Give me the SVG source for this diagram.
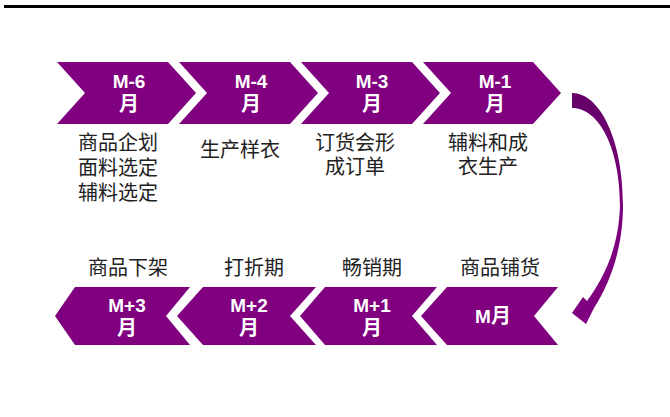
<svg xmlns="http://www.w3.org/2000/svg" width="670" height="417" viewBox="0 0 670 417">
<defs>
<style>
.chev{fill:#800080;}
.mt{font-family:"Liberation Sans","Noto Sans CJK SC",sans-serif;font-weight:bold;font-size:19px;fill:#fff;text-anchor:middle;}
.yue{font-family:"Liberation Sans","Noto Sans CJK SC",sans-serif;font-weight:bold;font-size:20px;}
.lb{font-family:"Liberation Serif","Noto Sans CJK SC",serif;font-size:20px;fill:#222;text-anchor:middle;}
</style>
<linearGradient id="ag" x1="0" y1="0" x2="0" y2="1">
<stop offset="0" stop-color="#650068"/>
<stop offset="0.5" stop-color="#7a007c"/>
<stop offset="1" stop-color="#800080"/>
</linearGradient>
</defs>
<rect width="670" height="417" fill="#fff"/>
<line x1="4" y1="6.5" x2="670" y2="6.5" stroke="#000" stroke-width="3"/>

<g id="m-6">
<polygon class="chev" points="57,62 168,62 196,93 168,124 57,124 85,93"/>
<text class="mt" x="129" y="88">M-6<tspan class="yue" x="129" y="111">月</tspan></text>
<text class="lb" x="118" y="150">商品企划<tspan x="118" y="175">面料选定</tspan><tspan x="118" y="200">辅料选定</tspan></text>
</g>
<g id="m-4">
<polygon class="chev" points="179,62 290,62 318,93 290,124 179,124 207,93"/>
<text class="mt" x="251" y="88">M-4<tspan class="yue" x="251" y="111">月</tspan></text>
<text class="lb" x="240" y="157">生产样衣</text>
</g>
<g id="m-3">
<polygon class="chev" points="301,62 412,62 440,93 412,124 301,124 329,93"/>
<text class="mt" x="372" y="88">M-3<tspan class="yue" x="372" y="111">月</tspan></text>
<text class="lb" x="355" y="150">订货会形<tspan x="355" y="174">成订单</tspan></text>
</g>
<g id="m-1">
<polygon class="chev" points="423,62 533,62 561,93 533,124 423,124 451,93"/>
<text class="mt" x="495" y="88">M-1<tspan class="yue" x="495" y="111">月</tspan></text>
<text class="lb" x="488" y="150">辅料和成<tspan x="488" y="174">衣生产</tspan></text>
</g>

<g id="m">
<polygon class="chev" points="447,287 558,287 534,316 558,345 447,345 421,316"/>
<text class="mt" x="493" y="323">M<tspan class="yue">月</tspan></text>
<text class="lb" x="500" y="275">商品铺货</text>
</g>
<g id="m+1">
<polygon class="chev" points="325,287 437,287 412,316 437,345 325,345 300,316"/>
<text class="mt" x="372" y="312">M+1<tspan class="yue" x="372" y="335">月</tspan></text>
<text class="lb" x="372" y="275">畅销期</text>
</g>
<g id="m+2">
<polygon class="chev" points="203,287 316,287 290,316 316,345 203,345 177,316"/>
<text class="mt" x="249" y="312">M+2<tspan class="yue" x="249" y="335">月</tspan></text>
<text class="lb" x="254" y="275">打折期</text>
</g>
<g id="m+3">
<polygon class="chev" points="75,287 190,287 166,316 190,345 75,345 55,316"/>
<text class="mt" x="127" y="312">M+3<tspan class="yue" x="127" y="335">月</tspan></text>
<text class="lb" x="128" y="275">商品下架</text>
</g>

<g id="connectors">
<path fill="url(#ag)" d="M572,93 C600,93 623,140 623,205 C623,245 612,280 594,308 L586,324 L572,313 L583,297 L587,301 C606,275 619,245 620,205 C620,150 600,108 572,108 Z"/>
</g>
</svg>
